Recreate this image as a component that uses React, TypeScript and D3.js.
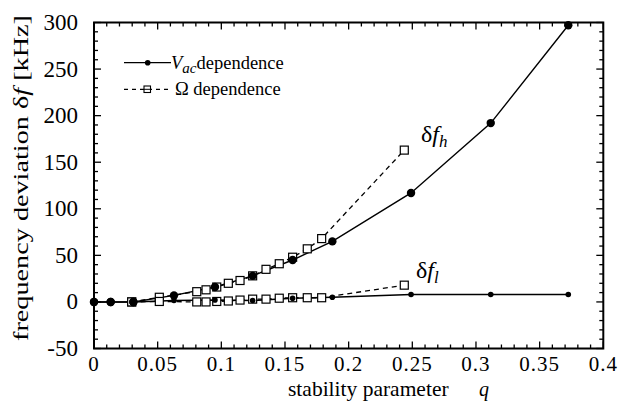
import React from "react";
import * as d3 from "d3";

// V_ac dependence (filled circles, solid line)
const vacQ = [0, 0.0131, 0.0309, 0.0628, 0.095, 0.1246, 0.156, 0.1872, 0.249, 0.3116, 0.3725];
const vacHigh = [0, 0, 0, 7, 16, 28, 45, 65, 117, 192, 297];
const vacLow = [0, 0, 0, 1.5, 2, 1.5, 4, 5, 8, 8, 8];

// Omega dependence (open squares, dashed line)
const omQ = [0.0296, 0.0513, 0.0807, 0.088, 0.0964, 0.1055, 0.1147, 0.1246, 0.1351, 0.1455, 0.156, 0.1675, 0.1788, 0.2437];
const omHigh = [0, 5, 11, 13, 16, 20, 23, 28, 35, 41, 48, 57, 68, 163];
const omLow = [0, 0.5, 0, 0, 0.5, 1, 2, 3, 3, 4, 4.5, 4.5, 4.5, 18];

const xTicks = [0, 0.05, 0.1, 0.15, 0.2, 0.25, 0.3, 0.35, 0.4];
const xTickLabels = ["0", "0.05", "0.1", "0.15", "0.2", "0.25", "0.3", "0.35", "0.4"];
const yTicks = [-50, 0, 50, 100, 150, 200, 250, 300];

const W = 631, H = 404;
const L = 94, R = 603.3, T = 22.5, B = 348.5;
const FONT = "Liberation Serif, Times New Roman, serif";

export default function App() {
  const x = d3.scaleLinear().domain([0, 0.4]).range([L, R]);
  const y = d3.scaleLinear().domain([-50, 300]).range([B, T]);
  const line = d3.line<[number, number]>().x(d => x(d[0])).y(d => y(d[1]));
  const pts = (qs: number[], vs: number[]) => qs.map((q, i) => [q, vs[i]] as [number, number]);

  const xMinor = d3.range(0, 0.4001, 0.01);
  const yMinor = d3.range(-50, 300.01, 10);
  const isMajorX = (v: number) => Math.abs(v * 20 - Math.round(v * 20)) < 1e-6;
  const isMajorY = (v: number) => Math.abs(v % 50) < 1e-6;

  const sq = 8;
  return (
    <svg width={W} height={H} style={{ position: "absolute", left: 0, top: 0, background: "#fff", fontFamily: FONT }}>
      <rect x={0} y={0} width={W} height={H} fill="#fff" />
      {/* ticks */}
      {xMinor.map((v, i) => {
        const len = isMajorX(v) ? 7 : 4;
        return (
          <g key={"xt" + i} stroke="#000" strokeWidth={1.3}>
            <line x1={x(v)} x2={x(v)} y1={B} y2={B - len} />
            <line x1={x(v)} x2={x(v)} y1={T} y2={T + len} />
          </g>
        );
      })}
      {yMinor.map((v, i) => {
        const len = isMajorY(v) ? 7 : 4;
        return (
          <g key={"yt" + i} stroke="#000" strokeWidth={1.3}>
            <line x1={L} x2={L + len} y1={y(v)} y2={y(v)} />
            <line x1={R} x2={R - len} y1={y(v)} y2={y(v)} />
          </g>
        );
      })}
      <rect x={L} y={T} width={R - L} height={B - T} fill="none" stroke="#000" strokeWidth={2} />

      {/* tick labels */}
      {xTicks.map((v, i) => (
        <text key={"xl" + i} x={x(v)} y={371} textAnchor="middle" fontSize={21} letterSpacing={1}>{xTickLabels[i]}</text>
      ))}
      {yTicks.map((v, i) => (
        <text key={"yl" + i} x={78} y={y(v) + 7.5} textAnchor="end" fontSize={23}>{v}</text>
      ))}

      {/* axis titles */}
      <text x={288} y={396} fontSize={21.5}>stability parameter</text>
      <text x={479} y={396} fontSize={20} fontStyle="italic">q</text>
      <text transform={`translate(28,178) rotate(-90)`} textAnchor="middle" fontSize={22}
        textLength={326} lengthAdjust="spacingAndGlyphs">
        frequency deviation δ<tspan fontStyle="italic">f</tspan>  [kHz]
      </text>

      {/* lines */}
      <path d={line(pts(omQ, omHigh)) || ""} fill="none" stroke="#000" strokeWidth={1.3} strokeDasharray="5,4" />
      <path d={line(pts(omQ, omLow)) || ""} fill="none" stroke="#000" strokeWidth={1.3} strokeDasharray="5,4" />
      <path d={line(pts(vacQ, vacHigh)) || ""} fill="none" stroke="#000" strokeWidth={1.4} />
      <path d={line(pts(vacQ, vacLow)) || ""} fill="none" stroke="#000" strokeWidth={1.4} />

      {/* markers */}
      {omQ.map((q, i) => (
        <g key={"os" + i} fill="#fff" stroke="#000" strokeWidth={1.2}>
          <rect x={x(q) - sq / 2} y={y(omHigh[i]) - sq / 2} width={sq} height={sq} />
          <rect x={x(q) - sq / 2} y={y(omLow[i]) - sq / 2} width={sq} height={sq} />
        </g>
      ))}
      {vacQ.map((q, i) => (
        <g key={"vc" + i} fill="#000">
          <circle cx={x(q)} cy={y(vacHigh[i])} r={4.2} />
          <circle cx={x(q)} cy={y(vacLow[i])} r={i < 3 ? 4.2 : 2.8} />
        </g>
      ))}

      {/* curve labels */}
      <text x={421} y={142} fontSize={24}>δ<tspan fontStyle="italic">f</tspan><tspan fontStyle="italic" fontSize={17} dy={5}>h</tspan></text>
      <text x={416} y={278} fontSize={24}>δ<tspan fontStyle="italic">f</tspan><tspan fontStyle="italic" fontSize={17} dy={5}>l</tspan></text>

      {/* legend */}
      <line x1={124} x2={171} y1={62.7} y2={62.7} stroke="#000" strokeWidth={1.3} />
      <circle cx={147.7} cy={62.7} r={2.8} fill="#000" />
      <text x={171} y={68.5} fontSize={18.5}>
        <tspan fontStyle="italic">V</tspan><tspan fontStyle="italic" fontSize={15} dy={4}>ac</tspan><tspan dy={-4}>dependence</tspan>
      </text>
      <line x1={124} x2={171} y1={89.3} y2={89.3} stroke="#000" strokeWidth={1.2} strokeDasharray="4,4" />
      <rect x={144} y={86} width={6.5} height={6.5} fill="#fff" stroke="#000" strokeWidth={1.1} />
      <line x1={144} x2={150.5} y1={89.3} y2={89.3} stroke="#000" strokeWidth={1} />
      <text x={175} y={95} fontSize={18.5}>Ω dependence</text>
    </svg>
  );
}
